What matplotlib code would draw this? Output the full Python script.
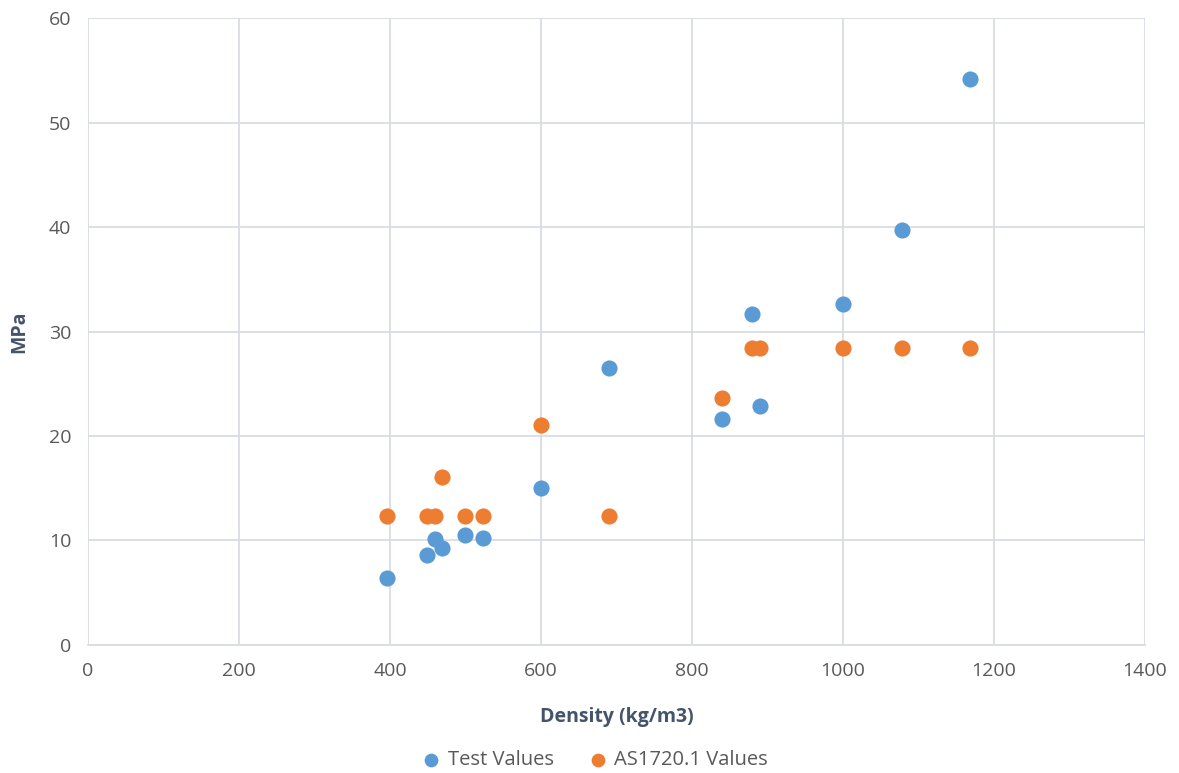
import matplotlib.pyplot as plt

# density (kg/m3) and strength (MPa) for each specimen
density = [396, 449, 460, 469, 499, 523, 600, 690, 840, 879, 890, 1000, 1078, 1168]
test_mpa = [6.4, 8.6, 10.1, 9.3, 10.5, 10.2, 15.0, 26.5, 21.6, 31.7, 22.9, 32.6, 39.7, 54.2]
as1720_mpa = [12.35, 12.35, 12.35, 16.1, 12.35, 12.35, 21.05, 12.35, 23.6, 28.45, 28.45, 28.45, 28.45, 28.45]

x_ticks = [0, 200, 400, 600, 800, 1000, 1200, 1400]
y_ticks = [0, 10, 20, 30, 40, 50, 60]

plt.rcParams['font.family'] = ['Open Sans', 'DejaVu Sans']

fig = plt.figure(figsize=(11.79, 7.73), dpi=100)
ax = fig.add_axes([0.0746, 0.1656, 0.8966, 0.8111])

ax.scatter(density, test_mpa, s=135, color='#5B9BD5', label='Test Values', zorder=3, linewidths=0)
ax.scatter(density, as1720_mpa, s=135, color='#ED7D31', label='AS1720.1 Values', zorder=3, linewidths=0)

ax.set_xlim(0, 1400)
ax.set_ylim(0, 60)
ax.set_xticks(x_ticks)
ax.set_yticks(y_ticks)
ax.grid(True, color='#D9DCE1', linewidth=1.3)
ax.set_axisbelow(True)
for side in ['top', 'right', 'left']:
    ax.spines[side].set_visible(False)
ax.spines['bottom'].set_color('#D9DCE1')
ax.spines['bottom'].set_linewidth(1.3)
ax.tick_params(length=0, labelsize=14, labelcolor='#595959', pad=12)

ax.set_xlabel('Density (kg/m3)', fontsize=14, fontweight='bold', color='#44546A', labelpad=20)
ax.set_ylabel('MPa', fontsize=14, fontweight='bold', color='#44546A', labelpad=14)

fig.legend(loc='lower center', bbox_to_anchor=(0.5, -0.02), ncol=2, frameon=False,
           fontsize=14.5, labelcolor='#595959', handletextpad=-0.2, columnspacing=1.2,
           markerscale=0.85)

fig.savefig('out.png', dpi=100)
